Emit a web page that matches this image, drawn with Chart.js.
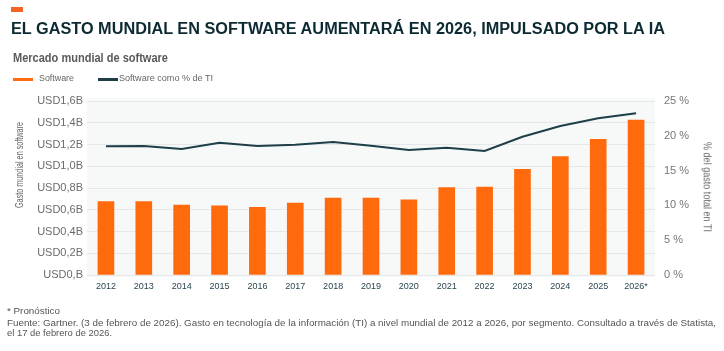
<!DOCTYPE html>
<html>
<head>
<meta charset="utf-8">
<script src="https://cdn.jsdelivr.net/npm/chart.js@4.4.1/dist/chart.umd.min.js"></script>
<style>
  html, body { margin: 0; padding: 0; background: #fff; }
  body { width: 724px; height: 351px; position: relative; overflow: hidden;
         font-family: 'Liberation Sans', Arial, sans-serif; }
  #wrap { position: absolute; left: 0; top: 0; width: 724px; height: 351px; }
  .t { position: absolute; white-space: nowrap; line-height: 1; transform-origin: left top; }
  .rot { position: absolute; white-space: nowrap; line-height: 1; transform-origin: center center; color: #666; font-size: 10px; }
  .lg { position: absolute; height: 2.5px; }
</style>
</head>
<body>
<div id="wrap"><canvas id="c" width="724" height="351"></canvas></div>

<div class="lg" style="left:11px; top:7px; width:12px; height:5px; background:#f26522;"></div>
<div class="t" id="title" data-w="654" style="left:11px; top:20.5px; font-size:16px; font-weight:bold; color:#0c2a31;">EL GASTO MUNDIAL EN SOFTWARE AUMENTARÁ EN 2026, IMPULSADO POR LA IA</div>
<div class="t" id="sub" data-w="155" style="left:13px; top:51.5px; font-size:12px; font-weight:bold; color:#5a5a5a;">Mercado mundial de software</div>

<div class="lg" style="left:13px; top:78px; width:20px; background:#ff6a13;"></div>
<div class="t" data-w="35" style="left:39px; top:73.4px; font-size:9.5px; color:#666;">Software</div>
<div class="lg" style="left:98px; top:78px; width:20px; background:#1e3f47;"></div>
<div class="t" data-w="94" style="left:119px; top:73.4px; font-size:9.5px; color:#666;">Software como % de TI</div>

<div class="rot" id="ytl" data-w="86">Gasto mundial en software</div>
<div class="rot" id="ytr" data-w="90">% del gasto total en TI</div>

<div class="t" data-w="53" style="left:7px; top:305.5px; font-size:9.5px; color:#555;">* Pronóstico</div>
<div class="t" data-w="709" style="left:7px; top:317.5px; font-size:9.5px; color:#555;">Fuente: Gartner. (3 de febrero de 2026). Gasto en tecnología de la información (TI) a nivel mundial de 2012 a 2026, por segmento. Consultado a través de Statista,</div>
<div class="t" data-w="105" style="left:7px; top:327.5px; font-size:9.5px; color:#555;">el 17 de febrero de 2026.</div>

<script>
// ---- data ----
const categories = ['2012','2013','2014','2015','2016','2017','2018','2019','2020','2021','2022','2023','2024','2025','2026*'];
const softwareSpend = [0.674, 0.674, 0.644, 0.637, 0.623, 0.662, 0.708, 0.708, 0.692, 0.803, 0.809, 0.972, 1.088, 1.248, 1.425];
const softwareShareOfIT = [18.49, 18.53, 18.10, 19.00, 18.53, 18.72, 19.11, 18.58, 17.96, 18.29, 17.82, 19.87, 21.41, 22.51, 23.23];
const leftTickLabels = ['USD0,B','USD0,2B','USD0,4B','USD0,6B','USD0,8B','USD1,0B','USD1,2B','USD1,4B','USD1,6B'];
const rightTickLabels = ['0 %','5 %','10 %','15 %','20 %','25 %'];

// ---- fit html text widths ----
document.querySelectorAll('.t[data-w]').forEach(el => {
  const w = el.getBoundingClientRect().width;
  el.style.transform = 'scaleX(' + (parseFloat(el.dataset.w) / w) + ')';
});
function placeRot(id, cx, cy, deg) {
  const el = document.getElementById(id);
  const r = el.getBoundingClientRect();
  const k = parseFloat(el.dataset.w) / r.width;
  el.style.left = (cx - r.width / 2) + 'px';
  el.style.top = (cy - r.height / 2) + 'px';
  el.style.transform = 'rotate(' + deg + 'deg) scaleX(' + k + ')';
}
placeRot('ytl', 20, 165, -90);
placeRot('ytr', 707, 187, 90);

const plotBg = {
  id: 'plotBg',
  beforeDraw(chart) {
    const a = chart.chartArea, ctx = chart.ctx;
    ctx.save();
    ctx.fillStyle = '#f7f8f8';
    ctx.fillRect(a.left, a.top - 3, a.right - a.left, a.bottom - a.top + 5);
    ctx.restore();
  }
};

const FONT = "'Liberation Sans', Arial, sans-serif";

new Chart(document.getElementById('c'), {
  type: 'bar',
  data: {
    labels: categories,
    datasets: [
      { type: 'line', label: 'Software como % de TI', data: softwareShareOfIT, yAxisID: 'y1',
        borderColor: '#1e3f47', borderWidth: 2, pointRadius: 0, tension: 0, order: 0, fill: false },
      { type: 'bar', label: 'Software', data: softwareSpend, yAxisID: 'y',
        backgroundColor: '#ff6a0d', barThickness: 16, order: 1 }
    ]
  },
  options: {
    responsive: false,
    animation: false,
    layout: { padding: { left: 0, right: 0, top: 101, bottom: 56 } },
    plugins: { legend: { display: false }, tooltip: { enabled: false } },
    scales: {
      x: {
        grid: { display: false, drawTicks: false },
        border: { display: false },
        ticks: { color: '#2a4650', font: { family: FONT, size: 9 }, padding: 6, maxRotation: 0, autoSkip: false },
        afterFit(s) { s.height = 20; }
      },
      y: {
        position: 'left', min: 0, max: 1.6,
        ticks: { stepSize: 0.2, color: '#6b6b6b', font: { family: FONT, size: 11 }, padding: 4,
                 callback: (v, i) => leftTickLabels[i] },
        grid: { color: '#e6e8e8', drawTicks: false, lineWidth: 1 },
        border: { display: false },
        afterFit(s) { s.width = 87; }
      },
      y1: {
        position: 'right', min: 0, max: 25,
        ticks: { stepSize: 5, color: '#777', font: { family: FONT, size: 11 }, padding: 9,
                 callback: (v, i) => rightTickLabels[i] },
        grid: { display: false, drawTicks: false },
        border: { display: false },
        afterFit(s) { s.width = 69; }
      }
    }
  },
  plugins: [plotBg]
});
</script>
</body>
</html>
